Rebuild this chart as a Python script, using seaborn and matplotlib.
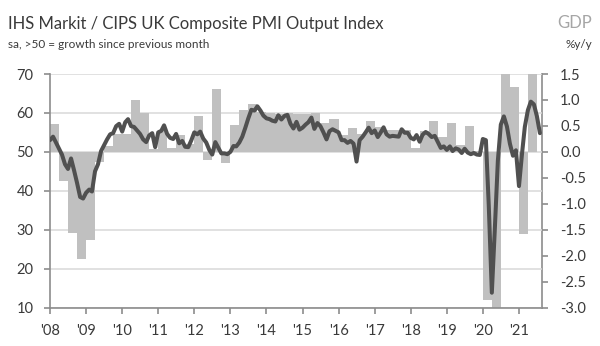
import numpy as np
import pandas as pd
import matplotlib
matplotlib.use("Agg")
import matplotlib.pyplot as plt
import matplotlib.dates as mdates
import seaborn as sns

# Monthly composite PMI output index, Jan 2008 - Aug 2021
pmi_2008 = [53.0, 53.9, 52.4, 50.8, 49.3, 46.8, 45.6, 48.3, 45.2, 42.0, 38.4, 38.0]
pmi_2009 = [39.5, 40.3, 39.8, 45.0, 46.8, 50.2, 51.7, 53.2, 54.5, 54.8, 56.6, 57.2]
pmi_2010 = [55.2, 57.6, 58.4, 56.6, 56.4, 55.5, 54.6, 53.2, 52.5, 54.2, 54.8, 51.2]
pmi_2011 = [55.0, 55.4, 56.8, 54.6, 53.6, 53.3, 54.6, 52.2, 52.8, 51.3, 51.2, 52.9]
pmi_2012 = [55.0, 54.5, 55.2, 53.4, 52.4, 50.5, 49.3, 52.5, 51.0, 49.6, 49.6, 49.4]
pmi_2013 = [50.0, 51.5, 51.4, 52.4, 53.9, 56.2, 58.6, 60.8, 60.6, 61.7, 60.6, 59.3]
pmi_2014 = [58.6, 58.4, 58.0, 57.8, 59.4, 58.3, 59.2, 59.5, 57.2, 56.0, 57.7, 55.7]
pmi_2015 = [56.2, 57.0, 57.6, 58.8, 55.9, 57.4, 56.6, 55.0, 53.2, 55.3, 55.8, 55.4]
pmi_2016 = [55.0, 53.0, 53.0, 52.3, 52.8, 52.1, 47.5, 53.0, 53.9, 55.0, 56.2, 54.8]
pmi_2017 = [55.5, 53.8, 54.9, 56.3, 54.5, 53.9, 54.1, 54.0, 53.9, 55.8, 54.9, 54.9]
pmi_2018 = [53.6, 53.2, 54.3, 52.6, 54.4, 55.1, 54.6, 53.8, 54.1, 52.6, 51.0, 51.4]
pmi_2019 = [50.5, 51.4, 50.2, 50.9, 50.6, 49.7, 50.8, 49.8, 49.4, 49.7, 49.3, 49.2]
pmi_2020 = [53.3, 53.0, 36.2, 13.8, 30.0, 47.7, 57.0, 59.1, 56.5, 52.1, 49.0, 50.4]
pmi_2021 = [41.2, 49.6, 56.4, 60.7, 62.9, 62.2, 59.2, 54.8]

# Quarterly GDP growth (%), Q1 2008 - Q2 2021
gdp_2008 = [0.53, -0.56, -1.56, -2.07]
gdp_2009 = [-1.69, -0.19, 0.11, 0.34]
gdp_2010 = [0.34, 1.00, 0.74, 0.05]
gdp_2011 = [0.42, 0.08, 0.32, 0.15]
gdp_2012 = [0.69, -0.15, 1.22, -0.21]
gdp_2013 = [0.52, 0.80, 0.93, 0.76]
gdp_2014 = [0.74, 0.72, 0.74, 0.72]
gdp_2015 = [0.72, 0.75, 0.55, 0.64]
gdp_2016 = [0.32, 0.45, 0.35, 0.59]
gdp_2017 = [0.48, 0.42, 0.42, 0.42]
gdp_2018 = [0.07, 0.40, 0.59, 0.29]
gdp_2019 = [0.55, 0.14, 0.50, 0.02]
gdp_2020 = [-2.86, -19.5, 16.9, 1.25]
gdp_2021 = [-1.59, 5.5]

year_labels = ["'08", "'09", "'10", "'11", "'12", "'13", "'14",
               "'15", "'16", "'17", "'18", "'19", "'20", "'21"]
pmi_ticks = [10, 20, 30, 40, 50, 60, 70]
gdp_ticks = [-3.0, -2.5, -2.0, -1.5, -1.0, -0.5, 0.0, 0.5, 1.0, 1.5]

pmi = sum([pmi_2008, pmi_2009, pmi_2010, pmi_2011, pmi_2012, pmi_2013, pmi_2014,
           pmi_2015, pmi_2016, pmi_2017, pmi_2018, pmi_2019, pmi_2020, pmi_2021], [])
gdp = sum([gdp_2008, gdp_2009, gdp_2010, gdp_2011, gdp_2012, gdp_2013, gdp_2014,
           gdp_2015, gdp_2016, gdp_2017, gdp_2018, gdp_2019, gdp_2020, gdp_2021], [])

months = pd.date_range("2008-01-01", periods=len(pmi), freq="MS")
q_edges = pd.date_range("2008-01-01", periods=len(gdp) + 1, freq="QS")
pmi_df = pd.DataFrame({"month": months, "pmi": pmi})

# GDP axis is tied to the PMI axis: 50 <-> 0%, 70 <-> 1.5%, 10 <-> -3%
def pmi_to_gdp(p):
    return (np.asarray(p) - 50.0) * 3.0 / 40.0

def gdp_to_pmi(g):
    return 50.0 + np.asarray(g) * 40.0 / 3.0

sns.set_theme(style="white")
plt.rcParams["font.family"] = ["Lato", "DejaVu Sans"]

TEXT = "#3a3a3a"
AXIS = "#8c8c8c"
GRID = "#d9d9d9"
BAR = "#c0c0c0"
LINE = "#505050"

fig = plt.figure(figsize=(6.0, 3.46), dpi=100)
ax = fig.add_axes([50 / 600, 1 - 307.5 / 346, 492 / 600, (307.5 - 74) / 346])

# GDP bars, one per quarter, spanning the quarter
starts = q_edges[:-1]
widths = (q_edges[1:] - q_edges[:-1]).days
ax.bar(mdates.date2num(starts), gdp_to_pmi(gdp) - 50.0, bottom=50.0,
       width=widths, align="edge", color=BAR, linewidth=0, zorder=2)

# PMI line
sns.lineplot(data=pmi_df, x="month", y="pmi", ax=ax, color=LINE,
             linewidth=2.9, zorder=3)

ax.set_ylim(10, 70)
ax.set_xlim(pd.Timestamp("2008-01-01"), pd.Timestamp("2021-08-22"))
ax.set_yticks(pmi_ticks)
ax.set_yticklabels([str(t) for t in pmi_ticks])
ax.set_xticks(pd.date_range("2008-01-01", periods=len(year_labels), freq="YS"))
ax.set_xticklabels(year_labels)
ax.set_xlabel("")
ax.set_ylabel("")

ax.grid(axis="y", color=GRID, linewidth=1.1, zorder=0)
ax.set_axisbelow(True)
for side in ("top", "right"):
    ax.spines[side].set_visible(False)
for side in ("left", "bottom"):
    ax.spines[side].set_color(AXIS)
    ax.spines[side].set_linewidth(1.2)
ax.tick_params(axis="y", direction="out", length=4, width=1.2, color=AXIS,
               labelsize=10.5, labelcolor=TEXT, pad=8, left=True)
ax.tick_params(axis="x", direction="out", length=4, width=1.2, color=AXIS,
               labelsize=10.5, labelcolor=TEXT, pad=8, bottom=True)

# Right-hand GDP scale
sec = ax.secondary_yaxis("right", functions=(pmi_to_gdp, gdp_to_pmi))
sec.set_yticks(gdp_ticks)
sec.set_yticklabels([f"{t:.1f}" for t in gdp_ticks], ha="left")
sec.spines["right"].set_color(AXIS)
sec.spines["right"].set_linewidth(1.2)
sec.tick_params(axis="y", direction="out", length=4, width=1.2, color=AXIS,
                labelsize=10.5, labelcolor=TEXT, pad=9)

fig.text(8 / 600, 1 - 28.5 / 346, "IHS Markit / CIPS UK Composite PMI Output Index",
         fontsize=12, color=TEXT, ha="left", va="baseline")
fig.text(8 / 600, 1 - 48.5 / 346, "sa, >50 = growth since previous month",
         fontsize=8.5, color=TEXT, ha="left", va="baseline")
fig.text(592 / 600, 1 - 28.5 / 346, "GDP", fontsize=12, color="#a6a6a6",
         ha="right", va="baseline")
fig.text(592 / 600, 1 - 48.5 / 346, "%y/y", fontsize=8.5, color=TEXT,
         ha="right", va="baseline")

fig.savefig("out.png", dpi=100)
